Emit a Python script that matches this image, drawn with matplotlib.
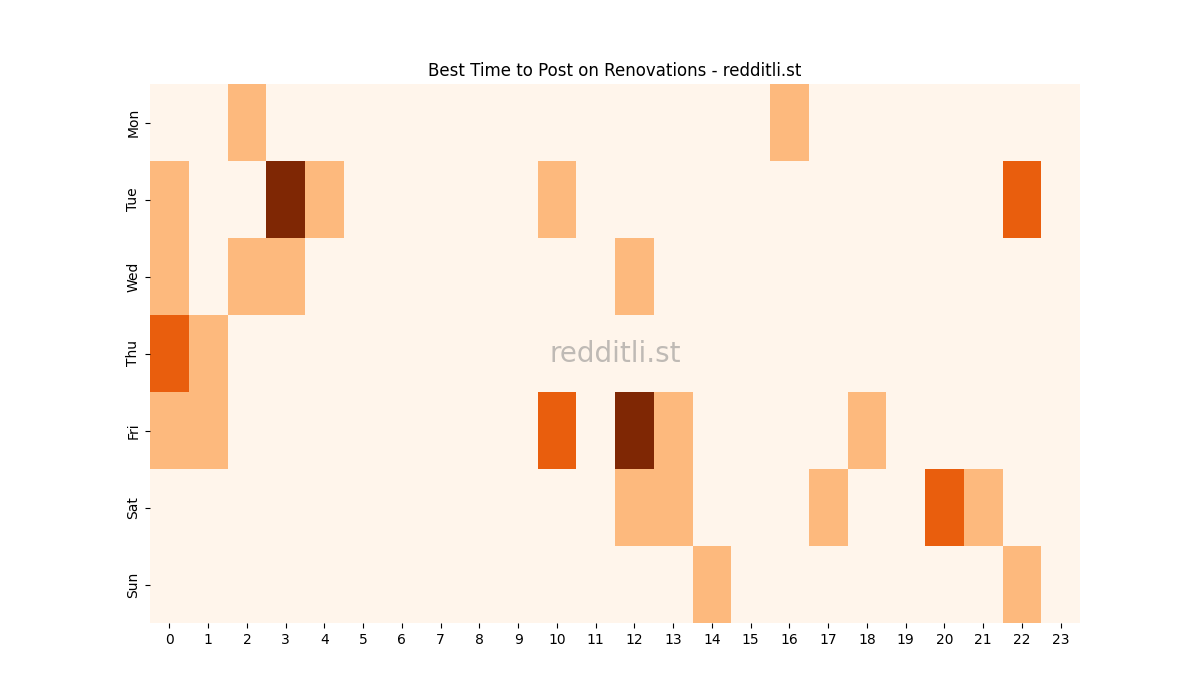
import matplotlib
matplotlib.use("Agg")
import matplotlib.pyplot as plt
import numpy as np

days = ["Mon", "Tue", "Wed", "Thu", "Fri", "Sat", "Sun"]
hours = list(range(24))

# (day, hour, value) for non-zero cells
mon = {2: 1, 16: 1}
tue = {0: 1, 3: 3, 4: 1, 10: 1, 22: 2}
wed = {0: 1, 2: 1, 3: 1, 12: 1}
thu = {0: 2, 1: 1}
fri = {0: 1, 1: 1, 10: 2, 12: 3, 13: 1, 18: 1}
sat = {12: 1, 13: 1, 17: 1, 20: 2, 21: 1}
sun = {14: 1, 22: 1}

grid = np.zeros((len(days), len(hours)))
for row, d in enumerate([mon, tue, wed, thu, fri, sat, sun]):
    for h, v in d.items():
        grid[row, h] = v

fig, ax = plt.subplots(figsize=(12, 7), dpi=100)
ax.pcolormesh(grid, cmap="Oranges", vmin=0, vmax=grid.max())
ax.set_xlim(0, len(hours))
ax.set_ylim(len(days), 0)
ax.set_xticks(np.arange(len(hours)) + 0.5)
ax.set_xticklabels(hours)
ax.set_yticks(np.arange(len(days)) + 0.5)
ax.set_yticklabels(days, rotation=90, va="center")
for s in ax.spines.values():
    s.set_visible(False)
ax.set_title("Best Time to Post on Renovations - redditli.st")
ax.text(0.5, 0.5, "redditli.st", transform=ax.transAxes, ha="center", va="center",
        fontsize=20, color="gray", alpha=0.5)

fig.savefig("out.png")
